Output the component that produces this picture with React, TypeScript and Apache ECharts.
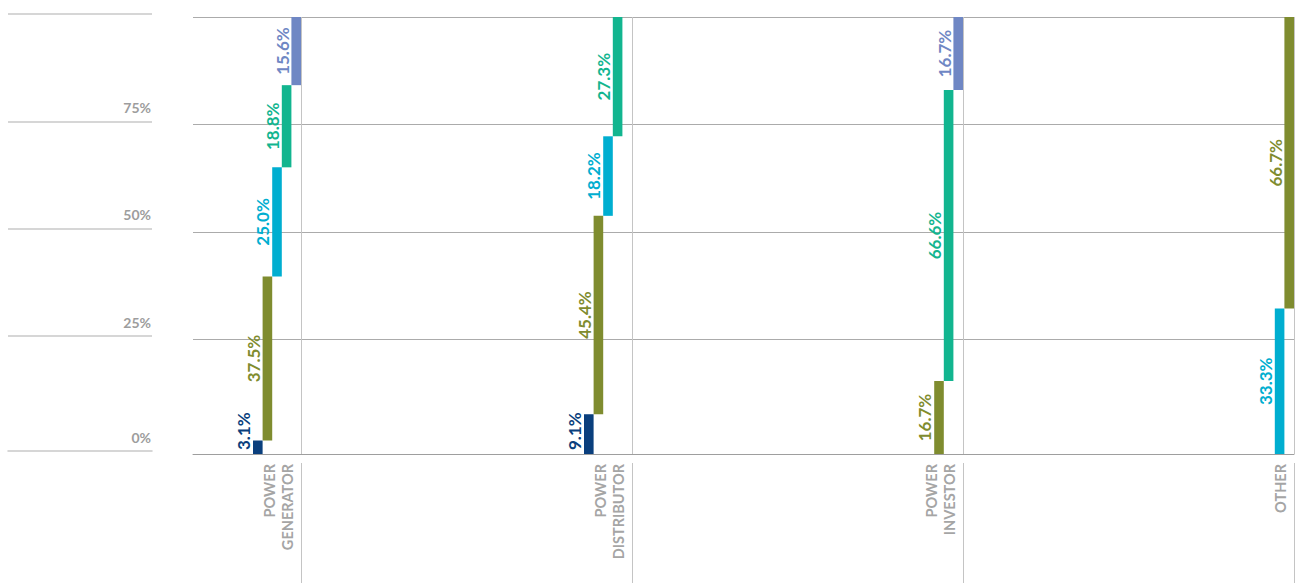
import React, { useEffect, useRef } from 'react';
import * as echarts from 'echarts';

// Category names (drawn rotated under the plot)
const categories = ['POWER\nGENERATOR', 'POWER\nDISTRIBUTOR', 'POWER\nINVESTOR', 'OTHER'];

// Share of each segment in percent, stacked from the bottom up
const generatorShares = [3.1, 37.5, 25.0, 18.8, 15.6];
const distributorShares = [9.1, 45.4, 18.2, 27.3, 0];
const investorShares = [16.7, 66.6, 16.7];
const otherShares = [33.3, 66.7];

// Segment group of each share (index into the palette)
const generatorGroups = [0, 1, 2, 3, 4];
const distributorGroups = [0, 1, 2, 3, 4];
const investorGroups = [1, 3, 4];
const otherGroups = [2, 1];

// Percentage scale
const percentTicks = [0, 25, 50, 75, 100];

const palette = ['#0a3f7d', '#7f8c2f', '#00aed0', '#12b58f', '#6f87c4'];
const FONT = 'Lato, "Open Sans", sans-serif';
const BAR_FRACTION = 0.029;

const shareLists = [generatorShares, distributorShares, investorShares, otherShares];
const groupLists = [generatorGroups, distributorGroups, investorGroups, otherGroups];

// Rows: [category, start, end, slot, slotCount, group, value]
const segmentRows: number[][] = [];
shareLists.forEach((list, ci) => {
  let acc = 0;
  list.forEach((v, j) => {
    segmentRows.push([ci, acc, acc + v, j, list.length, groupLists[ci][j], v]);
    acc += v;
  });
});

let measureCtx: CanvasRenderingContext2D | null = null;
function textLength(text: string, font: string): number {
  if (!measureCtx) measureCtx = document.createElement('canvas').getContext('2d');
  if (!measureCtx) return text.length * 9;
  measureCtx.font = font;
  return measureCtx.measureText(text).width;
}

const snap = (v: number) => Math.round(v) + 0.5;

export default function App() {
  const ref = useRef<HTMLDivElement>(null);

  useEffect(() => {
    if (!ref.current) return;
    const chart = echarts.init(ref.current, undefined, { renderer: 'svg' });

    const scaleMin = percentTicks[0];
    const scaleMax = percentTicks[percentTicks.length - 1];
    const scaleStep = percentTicks[1] - percentTicks[0];
    const labelFont = `bold 17px ${FONT}`;
    const scaleLabelStyle = {
      color: '#9d9d9d',
      fontSize: 14,
      fontWeight: 'bold',
      fontFamily: FONT,
    };
    const panelLine = { color: '#c9c9c9', width: 1.5 };

    const option: any = {
      animation: false,
      backgroundColor: '#ffffff',
      grid: [
        // left scale panel (upper rows)
        { left: 8, width: 144, top: 14, height: 429.6 },
        // bars
        { left: 193, right: 1, top: 17, height: 437 },
        // plot gridlines
        { left: 193, right: 0, top: 17, height: 429.6 },
        // left scale panel (zero row)
        { left: 8, width: 144, top: 14, height: 437 },
      ],
      xAxis: [
        { gridIndex: 0, type: 'value', min: 0, max: 1, show: false },
        {
          gridIndex: 1,
          type: 'value',
          min: 0.6737,
          max: categories.length,
          axisLine: { show: true, lineStyle: { color: '#9e9e9e', width: 1 } },
          axisTick: { show: false },
          axisLabel: { show: false },
          splitLine: { show: false },
        },
        { gridIndex: 2, type: 'value', min: 0, max: 1, show: false },
        {
          gridIndex: 3,
          type: 'value',
          min: 0,
          max: 1,
          axisLine: { show: true, lineStyle: panelLine },
          axisTick: { show: false },
          axisLabel: { show: false },
          splitLine: { show: false },
          name: `${scaleMin}%`,
          nameLocation: 'end',
          nameGap: -1,
          nameTextStyle: {
            ...scaleLabelStyle,
            align: 'right',
            verticalAlign: 'bottom',
            padding: [0, 0, 7, 0],
          },
        },
      ],
      yAxis: [
        {
          gridIndex: 0,
          type: 'value',
          position: 'right',
          min: scaleMin,
          max: scaleMax,
          interval: scaleStep,
          axisLine: { show: false },
          axisTick: { show: false },
          axisLabel: {
            ...scaleLabelStyle,
            inside: true,
            margin: 1,
            verticalAlign: 'bottom',
            padding: [0, 0, 7, 0],
            formatter: (v: number) => (v === scaleMin || v === scaleMax ? '' : `${v}%`),
          },
          splitLine: { show: true, showMinLine: false, lineStyle: panelLine },
        },
        { gridIndex: 1, type: 'value', min: scaleMin, max: scaleMax, show: false },
        {
          gridIndex: 2,
          type: 'value',
          min: scaleMin,
          max: scaleMax,
          interval: scaleStep,
          axisLine: { show: false },
          axisTick: { show: false },
          axisLabel: { show: false },
          splitLine: { show: true, showMinLine: false, lineStyle: { color: '#ababab', width: 1 } },
        },
        { gridIndex: 3, type: 'value', min: scaleMin, max: scaleMax, show: false },
      ],
      series: [
        {
          // category dividers and names
          type: 'custom',
          xAxisIndex: 1,
          yAxisIndex: 1,
          silent: true,
          z: 1,
          data: categories.map((_, i) => [i, 0]),
          renderItem: (_params: any, api: any) => {
            const ci = api.value(0);
            const bx = snap(api.coord([ci + 1, scaleMax])[0]);
            const yTop = api.coord([ci + 1, scaleMax])[1];
            const yBot = api.coord([ci + 1, scaleMin])[1];
            const h = api.getHeight();
            const lineStyle = { stroke: '#c4c4c4', lineWidth: 1 };
            return {
              type: 'group',
              children: [
                { type: 'line', shape: { x1: bx, y1: yTop, x2: bx, y2: yBot }, style: lineStyle },
                { type: 'line', shape: { x1: bx, y1: yBot + 9, x2: bx, y2: h }, style: lineStyle },
                {
                  type: 'text',
                  x: bx - 4.3,
                  y: yBot + 10,
                  rotation: Math.PI / 2,
                  style: {
                    text: categories[ci],
                    align: 'right',
                    verticalAlign: 'bottom',
                    fill: '#a5a5a5',
                    fontSize: 14.5,
                    fontWeight: 'bold',
                    fontFamily: FONT,
                    lineHeight: 18.5,
                  },
                },
              ],
            };
          },
        },
        {
          // floating share segments
          type: 'custom',
          xAxisIndex: 1,
          yAxisIndex: 1,
          z: 3,
          data: segmentRows,
          encode: { x: 0, y: 2 },
          renderItem: (_params: any, api: any) => {
            const ci = api.value(0);
            const start = api.value(1);
            const end = api.value(2);
            const slot = api.value(3);
            const count = api.value(4);
            const group = api.value(5);
            const value = api.value(6);
            if (!(value > 0)) return { type: 'group', children: [] };
            const w = api.size([1, 0])[0] * BAR_FRACTION;
            const right = api.coord([ci + 1, scaleMin])[0] - (count - 1 - slot) * w;
            const left = right - w;
            const yTop = api.coord([ci + 1, end])[1];
            const yBot = api.coord([ci + 1, start])[1];
            const plotBottom = api.coord([ci + 1, scaleMin])[1];
            const color = palette[group];
            const text = `${value.toFixed(1)}%`;
            const half = textLength(text, labelFont) / 2;
            let cy = (yTop + yBot) / 2;
            if (cy + half > plotBottom - 4) cy = plotBottom - 4 - half;
            return {
              type: 'group',
              children: [
                { type: 'rect', shape: { x: left, y: yTop, width: w, height: yBot - yTop }, style: { fill: color } },
                {
                  type: 'text',
                  x: left - 0.8,
                  y: cy,
                  rotation: Math.PI / 2,
                  style: {
                    text,
                    fill: color,
                    fontSize: 17,
                    fontWeight: 'bold',
                    fontFamily: FONT,
                    align: 'center',
                    verticalAlign: 'bottom',
                  },
                },
              ],
            };
          },
        },
      ],
    };

    chart.setOption(option);
    return () => chart.dispose();
  }, []);

  return (
    <div
      ref={ref}
      style={{ position: 'absolute', left: 0, top: 0, width: 1295, height: 583, background: '#ffffff' }}
    />
  );
}
